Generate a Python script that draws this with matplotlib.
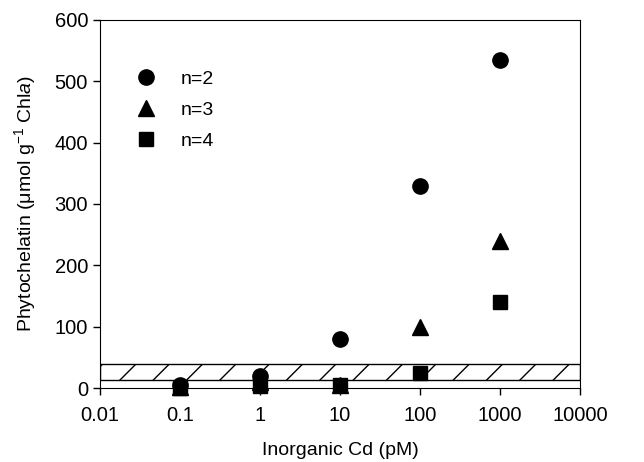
import numpy as np
import matplotlib
matplotlib.use("Agg")
import matplotlib.pyplot as plt
from matplotlib.ticker import FixedLocator, FixedFormatter

plt.rcParams['font.family'] = ['Liberation Sans', 'DejaVu Sans']
plt.rcParams['mathtext.fontset'] = 'custom'
plt.rcParams['mathtext.rm'] = 'Liberation Sans'
plt.rcParams['mathtext.it'] = 'Liberation Sans:italic'
plt.rcParams['hatch.linewidth'] = 1.0

cd = [0.1, 1, 10, 100, 1000]
pc_n2 = [5, 20, 80, 330, 535]
pc_n3 = [2, 10, 5, 100, 240]
pc_n4 = [0, 3, 5, 25, 140]
detect_low, detect_high = 13, 39

xticks = [0.01, 0.1, 1, 10, 100, 1000, 10000]
xticklabels = ["0.01", "0.1", "1", "10", "100", "1000", "10000"]

fig = plt.figure(figsize=(6.44, 4.62), dpi=100)
ax = fig.add_axes([0.155, 0.160, 0.746, 0.797])

ax.fill_between([0.01, 10000], detect_low, detect_high, facecolor="white",
                edgecolor="black", hatch="/", linewidth=1.0, zorder=1)

ax.plot(cd, pc_n2, "o", color="black", markersize=11, label="n=2", clip_on=False, zorder=3)
ax.plot(cd, pc_n3, "^", color="black", markersize=11, label="n=3", clip_on=False, zorder=3)
ax.plot(cd, pc_n4, "s", color="black", markersize=10, label="n=4", clip_on=False, zorder=3)

ax.set_xscale("log")
ax.set_xlim(0.01, 10000)
ax.set_ylim(0, 600)
ax.xaxis.set_major_locator(FixedLocator(xticks))
ax.xaxis.set_major_formatter(FixedFormatter(xticklabels))
ax.xaxis.set_minor_locator(FixedLocator([]))
ax.set_yticks([0, 100, 200, 300, 400, 500, 600])
ax.tick_params(labelsize=14.5, direction="out", length=5, width=1)
ax.tick_params(axis="x", pad=8)
ax.tick_params(top=False, right=False)

ax.set_xlabel("Inorganic Cd (pM)", fontsize=14, labelpad=12)
ax.set_ylabel("Phytochelatin (\u03bcmol g$^{-1}$ Chl$\\it{a}$)", fontsize=14, labelpad=12)

ax.legend(loc="upper left", bbox_to_anchor=(0.05, 0.885), frameon=False, fontsize=14,
          handletextpad=1.0, labelspacing=0.7, borderaxespad=0, handlelength=1.5)

fig.savefig("out.png", dpi=100)
